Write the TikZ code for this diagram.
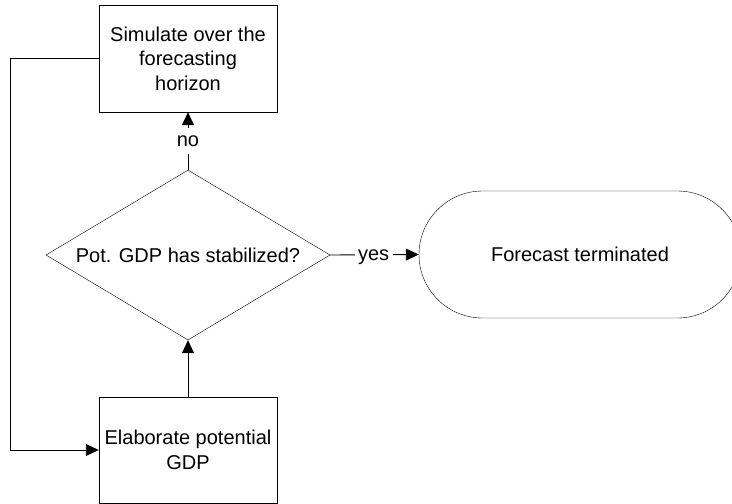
\documentclass[tikz,border=0pt]{standalone}
\usepackage{fontspec}
\setmainfont{Liberation Sans}
\usetikzlibrary{shapes.geometric,shapes.misc,arrows.meta}
\begin{document}
\begin{tikzpicture}[x=1pt,y=-1pt,
  every node/.style={font=\fontsize{20}{24.5}\selectfont},
  box/.style={draw,rectangle,minimum width=178pt,minimum height=107pt,inner sep=0pt,align=center},
  decision/.style={draw,diamond,aspect=1.67,minimum width=284pt,minimum height=170pt,inner sep=0pt},
  terminal/.style={draw,rounded rectangle,minimum width=322pt,minimum height=127pt,inner sep=0pt},
  lbl/.style={fill=white,inner xsep=3.5pt,inner ysep=8pt},
  conn/.style={line width=0.9pt,-{Triangle[length=13pt,width=12pt]}}
]
\useasboundingbox (0,0) rectangle (732,504);
\node[box] (sim) at (188,58.5) {Simulate over the\\forecasting\\horizon};
\node[decision] (dec) at (188,255) {Pot. GDP has stabilized?};
\node[terminal] (term) at (580,254.5) {Forecast terminated};
\node[box,minimum height=106pt] (elab) at (188,450) {Elaborate potential\\GDP};
\draw[conn] (dec.north) -- node[lbl,pos=0.5] (no) {no} (sim.south);
\draw[conn] (dec.east) -- node[lbl,pos=0.49,text depth=0pt] (yes) {yes} (term.west);
\draw[conn] (elab.north) -- (dec.south);
\draw[conn] (sim.west) -- ++(-88,0) |- (elab.west);
\end{tikzpicture}
\end{document}
